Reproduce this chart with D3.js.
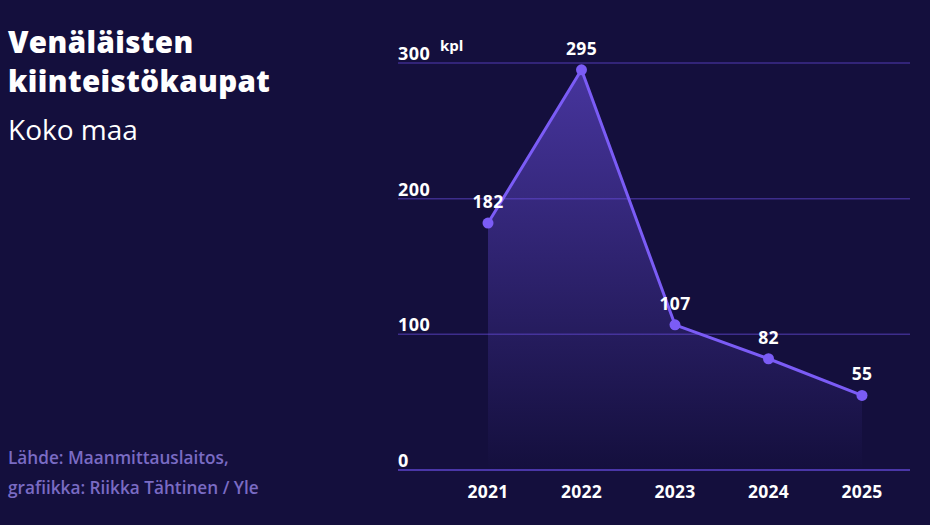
<!DOCTYPE html>
<html><head><meta charset="utf-8">
<script src="https://cdn.jsdelivr.net/npm/d3@7"></script>
<style>
html,body{margin:0;padding:0;background:#140f3d;}
svg{display:block;font-family:"Open Sans","Noto Sans",sans-serif;}
</style></head>
<body>
<script>
const years = ["2021","2022","2023","2024","2025"];
const values = [182, 295, 107, 82, 55];
const yTicks = [0, 100, 200, 300];
const title = ["Venäläisten", "kiinteistökaupat"];
const subtitle = "Koko maa";
const source = ["Lähde: Maanmittauslaitos,", "grafiikka: Riikka Tähtinen / Yle"];
const unit = "kpl";

const W = 930, H = 525;
const svg = d3.select("body").append("svg").attr("width", W).attr("height", H);
svg.append("rect").attr("width", W).attr("height", H).attr("fill", "#140f3d");

const x = d3.scalePoint().domain(years).range([488, 862]);
const y = d3.scaleLinear().domain([0, 300]).range([470, 63]);
const gridX0 = 398, gridX1 = 910;

const defs = svg.append("defs");
const grad = defs.append("linearGradient").attr("id", "ag")
  .attr("gradientUnits", "userSpaceOnUse").attr("x1", 0).attr("y1", y(300)).attr("x2", 0).attr("y2", y(0));
grad.append("stop").attr("offset", 0).attr("stop-color", "#6a4fe0").attr("stop-opacity", 0.6);
grad.append("stop").attr("offset", 1).attr("stop-color", "#6a4fe0").attr("stop-opacity", 0.0);

// gridlines
const g = svg.append("g");
g.selectAll("line.grid").data(yTicks).join("line")
  .attr("x1", gridX0).attr("x2", gridX1)
  .attr("y1", d => y(d)).attr("y2", d => y(d))
  .attr("stroke", d => d === 0 ? "#4a36a8" : "#3d2d8c").attr("stroke-width", d => d === 0 ? 2 : 1.5);

g.selectAll("text.ytick").data(yTicks).join("text")
  .attr("x", gridX0).attr("y", d => y(d) - 3)
  .attr("fill", "#ffffff").attr("font-size", 18).attr("font-weight", 700)
  .attr("letter-spacing", 0.5)
  .text(d => d);

svg.append("text").attr("x", 440).attr("y", 51).attr("fill", "#fff")
  .attr("font-size", 15).attr("font-weight", 700).text(unit);

// area
const data = years.map((yr, i) => ({yr, v: values[i]}));
const area = d3.area().x(d => x(d.yr)).y0(y(0)).y1(d => y(d.v));
svg.append("path").datum(data).attr("d", area).attr("fill", "url(#ag)");

const line = d3.line().x(d => x(d.yr)).y(d => y(d.v));
svg.append("path").datum(data).attr("d", line).attr("fill", "none")
  .attr("stroke", "#7b5cf6").attr("stroke-width", 3).attr("stroke-linejoin", "round");

svg.selectAll("circle.pt").data(data).join("circle")
  .attr("cx", d => x(d.yr)).attr("cy", d => y(d.v)).attr("r", 5.5).attr("fill", "#7b5cf6");

svg.selectAll("text.val").data(data).join("text")
  .attr("x", d => x(d.yr)).attr("y", d => y(d.v) - 15)
  .attr("text-anchor", "middle").attr("fill", "#fff")
  .attr("font-size", 17.5).attr("font-weight", 700).attr("letter-spacing", 0.3)
  .text(d => d.v);

// x axis labels
svg.selectAll("text.xl").data(years).join("text")
  .attr("x", d => x(d)).attr("y", 498)
  .attr("text-anchor", "middle").attr("fill", "#fff")
  .attr("font-size", 17.5).attr("font-weight", 700).attr("letter-spacing", 0.3).text(d => d);

// title
svg.selectAll("text.title").data(title).join("text")
  .attr("x", 8).attr("y", (d, i) => 53 + i * 39)
  .attr("fill", "#fff").attr("font-size", 29.5).attr("font-weight", 800)
  .attr("letter-spacing", 0.4).text(d => d);
svg.append("text").attr("x", 8).attr("y", 140).attr("fill", "#fff")
  .attr("font-size", 28).attr("font-weight", 400).text(subtitle);

svg.selectAll("text.src").data(source).join("text")
  .attr("x", 8).attr("y", (d, i) => 464 + i * 30)
  .attr("fill", "#7a6bc4").attr("font-size", 17.2).attr("font-weight", 600).text(d => d);
</script>
</body></html>
